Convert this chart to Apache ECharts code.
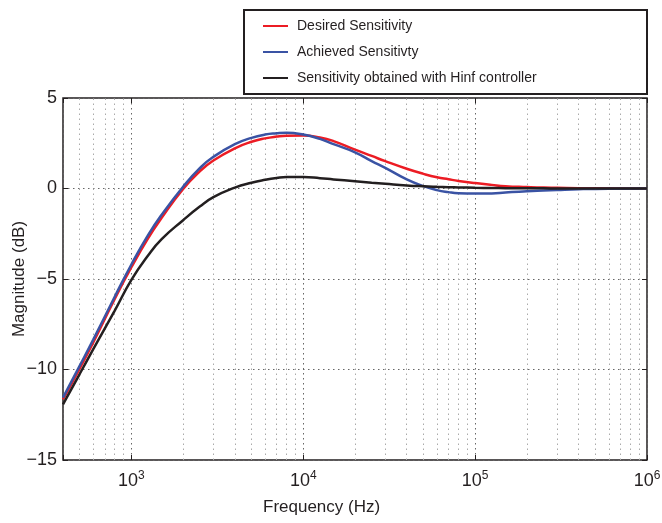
<!DOCTYPE html>
<html>
<head>
<meta charset="utf-8">
<script src="https://cdn.jsdelivr.net/npm/echarts@6/dist/echarts.min.js"></script>
<style>
  html, body { margin: 0; padding: 0; background: #fff; }
  #chart { width: 662px; height: 523px; }
</style>
</head>
<body>
<div id="chart"></div>
<script>
// frequency points (Hz) and magnitudes (dB)
const freqHz = [400, 500, 600, 800, 1000, 1250, 1500, 2000, 2500, 3000, 4000, 5000, 6000, 7000, 8000,
  10000, 12500, 15000, 20000, 25000, 30000, 40000, 50000, 60000, 70000, 80000,
  100000, 125000, 150000, 200000, 250000, 300000, 400000, 600000, 1000000];
const desiredDb = [-11.65, -9.95, -8.5, -6.1, -4.35, -2.75, -1.62, -0.02, 0.95, 1.55, 2.22, 2.58, 2.77, 2.87, 2.92,
  2.93, 2.82, 2.62, 2.15, 1.8, 1.51, 1.09, 0.81, 0.62, 0.51, 0.42,
  0.3, 0.2, 0.13, 0.08, 0.05, 0.04, 0.02, 0.01, 0];
const achievedDb = [-11.55, -9.8, -8.35, -5.98, -4.2, -2.58, -1.45, 0.1, 1.12, 1.75, 2.45, 2.8, 2.98, 3.05, 3.08,
  2.98, 2.74, 2.45, 2.0, 1.51, 1.14, 0.5, 0.13, -0.09, -0.2, -0.26,
  -0.28, -0.27, -0.22, -0.15, -0.11, -0.08, -0.04, -0.01, 0];
const hinfDb = [-11.93, -10.25, -8.88, -6.75, -5.05, -3.7, -2.8, -1.75, -1.0, -0.48, 0.05, 0.32, 0.48, 0.58, 0.63,
  0.63, 0.57, 0.5, 0.4, 0.32, 0.26, 0.17, 0.12, 0.09, 0.07, 0.06,
  0.04, 0.03, 0.02, 0.01, 0.01, 0, 0, 0, 0];
const seriesNames = ["Desired Sensitivity", "Achieved Sensitivty", "Sensitivity obtained with Hinf controller"];
const xMin = 400, xMax = 1000000;
const yMin = -15, yMax = 5, yStep = 5;

// minor grid lines at 2..9 x 10^k
const minorGrid = [];
for (let e = 2; e <= 5; e++) {
  for (let k = 2; k <= 9; k++) {
    const v = k * Math.pow(10, e);
    if (v > xMin && v < xMax) minorGrid.push(v);
  }
}

const font = "Liberation Sans, Arial, sans-serif";
const ink = "#231f20";
const dots = [1.5, 3.5];

function pairs(ys) {
  return freqHz.map((f, i) => [f, ys[i]]);
}

function expLabel(v) {
  const e = Math.round(Math.log10(v));
  if (Math.abs(Math.pow(10, e) - v) > 1e-6 * v) return "";
  return "{b|10}{s|" + e + "}";
}

function curve(i, ys, color, extra) {
  return Object.assign({
    name: seriesNames[i], type: "line", data: pairs(ys), smooth: 0.5,
    symbol: "none", color, lineStyle: { width: 2.5 },
  }, extra || {});
}

const chart = echarts.init(document.getElementById("chart"));
chart.setOption({
  animation: false,
  textStyle: { fontFamily: font },
  grid: { left: 63, right: 15, top: 98, bottom: 63, show: true, borderColor: ink, borderWidth: 1.5,
    containLabel: false, outerBoundsMode: "none" },
  graphic: [
    { type: "rect", z: 1, shape: { x: 244, y: 10, width: 403, height: 84 },
      style: { fill: "#fff", stroke: ink, lineWidth: 2 } },
    { type: "text", left: 263, top: 499, z: 5,
      style: { text: "Frequency (Hz)", fontSize: 17, fontFamily: font, fill: ink } },
  ],
  legend: {
    orient: "vertical", left: 263, top: 19, padding: 0, itemGap: 12, z: 5,
    icon: "rect", itemWidth: 25, itemHeight: 2,
    textStyle: { fontSize: 14, color: ink, padding: [0, 0, 0, 4] },
    data: seriesNames,
  },
  xAxis: [
    {
      type: "log", logBase: 10, min: xMin, max: xMax,
      axisLine: { show: false, onZero: false },
      axisTick: { inside: true, length: 5, lineStyle: { color: ink } },
      axisLabel: {
        margin: 10, formatter: expLabel, color: ink,
        rich: {
          b: { fontSize: 18, fontFamily: font, color: ink, lineHeight: 22 },
          s: { fontSize: 12, fontFamily: font, color: ink, verticalAlign: "top", lineHeight: 22, padding: [0, 0, 12, 0] },
        },
      },
      splitLine: { show: true, lineStyle: { color: "#666", type: dots, width: 1 } },
    },
    {
      type: "log", logBase: 10, min: xMin, max: xMax, position: "top",
      axisLine: { show: false, onZero: false },
      axisTick: { inside: true, length: 5, lineStyle: { color: ink } },
      axisLabel: { show: false },
      splitLine: { show: false },
    },
  ],
  yAxis: [
    {
      type: "value", min: yMin, max: yMax, interval: yStep,
      name: "Magnitude (dB)", nameLocation: "middle", nameGap: 35, nameMoveOverlap: false,
      nameTextStyle: { fontSize: 17, color: ink, fontFamily: font },
      axisLine: { show: false, onZero: false },
      axisTick: { inside: true, length: 5, lineStyle: { color: ink } },
      axisLabel: { fontSize: 18, color: ink, margin: 6, formatter: (v) => (v < 0 ? "\u2212" + Math.abs(v) : String(v)) },
      splitLine: { show: true, lineStyle: { color: "#666", type: dots, width: 1 } },
    },
    {
      type: "value", min: yMin, max: yMax, interval: yStep, position: "right",
      axisLine: { show: false, onZero: false },
      axisTick: { inside: true, length: 5, lineStyle: { color: ink } },
      axisLabel: { show: false },
      splitLine: { show: false },
    },
  ],
  series: [
    curve(0, desiredDb, "#ec1c24", {
      markLine: {
        silent: true, symbol: "none", z: 1, label: { show: false },
        lineStyle: { color: "#aaa", type: dots, width: 1 },
        data: minorGrid.map((v) => ({ xAxis: v })),
      },
    }),
    curve(1, achievedDb, "#3a53a4"),
    curve(2, hinfDb, ink),
  ],
});
</script>
</body>
</html>
